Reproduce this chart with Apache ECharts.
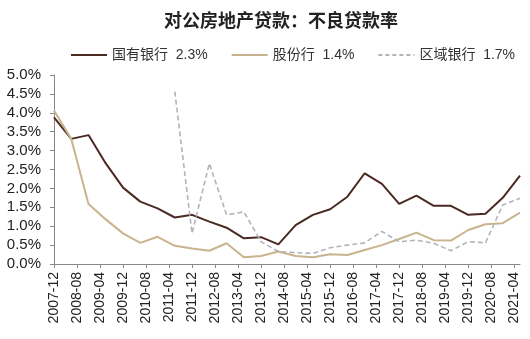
<!DOCTYPE html>
<html>
<head>
<meta charset="utf-8">
<script src="https://cdn.jsdelivr.net/npm/echarts@6/dist/echarts.min.js"></script>
<style>
html,body{margin:0;padding:0;background:#fff;}
#c{width:530px;height:339px;}
</style>
</head>
<body>
<div id="c"></div>
<script>
// Semi-annual observation dates
var dates = ['2007-12','2008-06','2008-12','2009-06','2009-12','2010-06','2010-12','2011-06','2011-12','2012-06','2012-12','2013-06','2013-12','2014-06','2014-12','2015-06','2015-12','2016-06','2016-12','2017-06','2017-12','2018-06','2018-12','2019-06','2019-12','2020-06','2020-12','2021-06'];
var stateBanks = [3.88,3.31,3.41,2.66,2.02,1.65,1.47,1.23,1.30,1.12,0.96,0.68,0.71,0.52,1.03,1.30,1.45,1.78,2.40,2.12,1.59,1.81,1.54,1.54,1.30,1.33,1.75,2.34];
var jointStock = [4.06,3.31,1.59,1.18,0.81,0.56,0.72,0.48,0.41,0.35,0.55,0.18,0.21,0.33,0.21,0.18,0.26,0.24,0.37,0.50,0.66,0.83,0.63,0.62,0.90,1.05,1.08,1.36];
var regional = [null,null,null,null,null,null,null,4.56,0.81,2.66,1.30,1.38,0.59,0.33,0.30,0.28,0.43,0.50,0.56,0.86,0.59,0.63,0.55,0.35,0.59,0.56,1.56,1.74];
var seriesNames = ['国有银行','股份行','区域银行'];
var yTicks = {min:0, max:5, interval:0.5};
var axisStart = '2007-12', axisEnd = '2021-06';

// monthly category axis
var months = [];
(function(){
  var y = +axisStart.slice(0,4), m = +axisStart.slice(5,7);
  var ey = +axisEnd.slice(0,4), em = +axisEnd.slice(5,7);
  while (y < ey || (y === ey && m <= em)) {
    months.push(y + '-' + (m < 10 ? '0' + m : m));
    m++; if (m > 12) { m = 1; y++; }
  }
})();

function pairs(arr){ return dates.map(function(d,i){ return [d, arr[i]]; }); }
var latest = {};
latest[seriesNames[0]] = stateBanks[stateBanks.length-1];
latest[seriesNames[1]] = jointStock[jointStock.length-1];
latest[seriesNames[2]] = regional[regional.length-1];

var SOLID = 'path://M0,0H36V2H0Z';
var DASHED = 'path://M0,0H4V2H0Z M7,0H11V2H7Z M14,0H18V2H14Z M21,0H25V2H21Z M28,0H32V2H28Z M35,0H36V2H35Z';

var FONT = '"Liberation Sans", Arial, "Noto Sans CJK SC", sans-serif';
var chart = echarts.init(document.getElementById('c'), null, {renderer:'canvas'});
chart.setOption({
  backgroundColor:'#fff',
  animation:false,
  title:{
    text:'对公房地产贷款：不良贷款率',
    left:159, top:8,
    textStyle:{fontSize:18, fontWeight:'bold', color:'#222', fontFamily:FONT}
  },
  legend:{
    top:43, left:66,
    itemWidth:36, itemHeight:2, itemGap:24,
    data:[
      {name:seriesNames[0], icon:SOLID},
      {name:seriesNames[1], icon:SOLID},
      {name:seriesNames[2], icon:DASHED}
    ],
    formatter:function(n){ return n + '  ' + latest[n].toFixed(1) + '%'; },
    textStyle:{fontSize:14, color:'#333', fontFamily:FONT}
  },
  grid:{left:54, right:10, top:75, bottom:75, containLabel:false},
  xAxis:{
    type:'category', data:months, boundaryGap:false,
    axisLine:{lineStyle:{color:'#888', width:1}},
    axisTick:{show:true, interval:7, length:4, lineStyle:{color:'#888'}},
    axisLabel:{interval:7, rotate:90, margin:8, fontSize:14, color:'#222', fontFamily:FONT},
    splitLine:{show:false}
  },
  yAxis:{
    type:'value', min:yTicks.min, max:yTicks.max, interval:yTicks.interval,
    axisLine:{show:true, lineStyle:{color:'#888', width:1}},
    axisTick:{show:true, length:4, lineStyle:{color:'#888'}},
    axisLabel:{formatter:function(v){return v.toFixed(1)+'%';}, fontSize:15, color:'#222', margin:13, fontFamily:FONT},
    splitLine:{show:false}
  },
  series:[
    {name:seriesNames[0], type:'line', data:pairs(stateBanks), showSymbol:false, symbol:'none',
     lineStyle:{color:'#4b2a24', width:2}, itemStyle:{color:'#4b2a24'}},
    {name:seriesNames[1], type:'line', data:pairs(jointStock), showSymbol:false, symbol:'none',
     lineStyle:{color:'#c8b48e', width:2}, itemStyle:{color:'#c8b48e'}},
    {name:seriesNames[2], type:'line', data:pairs(regional), showSymbol:false, symbol:'none',
     lineStyle:{color:'#b3b3bb', width:1.6, type:[5,3]}, itemStyle:{color:'#b3b3bb'}}
  ]
});
</script>
</body>
</html>
